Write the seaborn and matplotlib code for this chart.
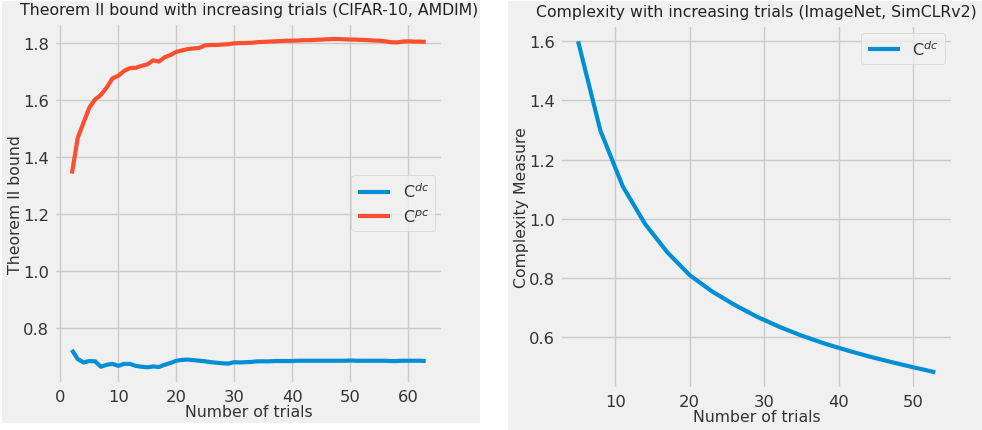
import matplotlib
matplotlib.use("Agg")
import matplotlib.pyplot as plt
from matplotlib.patches import Rectangle
import pandas as pd
import seaborn as sns

# left panel: Theorem II bound vs trials (CIFAR-10, AMDIM)
trials_left = list(range(2, 64))
c_dc_left = [0.724, 0.692, 0.680, 0.685, 0.684, 0.665, 0.672, 0.675, 0.668, 0.675,
             0.675, 0.668, 0.665, 0.663, 0.666, 0.664, 0.672, 0.678, 0.686, 0.689,
             0.690, 0.688, 0.686, 0.684, 0.681, 0.679, 0.677, 0.676, 0.681, 0.680,
             0.681, 0.682, 0.684, 0.684, 0.684, 0.685, 0.685, 0.685, 0.685, 0.686,
             0.686, 0.686, 0.686, 0.686, 0.686, 0.686, 0.686, 0.686, 0.687, 0.686,
             0.686, 0.686, 0.686, 0.686, 0.686, 0.685, 0.685, 0.686, 0.686, 0.686,
             0.686, 0.685]
c_pc_left = [1.343, 1.468, 1.521, 1.574, 1.603, 1.619, 1.645, 1.677, 1.686, 1.703,
             1.713, 1.714, 1.721, 1.726, 1.740, 1.736, 1.751, 1.759, 1.770, 1.775,
             1.780, 1.782, 1.784, 1.793, 1.794, 1.794, 1.796, 1.797, 1.800, 1.801,
             1.801, 1.802, 1.804, 1.805, 1.806, 1.807, 1.808, 1.809, 1.809, 1.810,
             1.811, 1.811, 1.812, 1.813, 1.814, 1.815, 1.815, 1.814, 1.813, 1.813,
             1.812, 1.811, 1.810, 1.809, 1.807, 1.804, 1.803, 1.806, 1.807, 1.806,
             1.806, 1.805]

# right panel: complexity vs trials (ImageNet, SimCLRv2)
trials_right = list(range(5, 54, 3))
c_dc_right = [1.600, 1.298, 1.110, 0.983, 0.887, 0.810, 0.755, 0.710, 0.670,
              0.636, 0.606, 0.580, 0.557, 0.536, 0.517, 0.499, 0.482]

plt.style.use("fivethirtyeight")
blue, red = "#008fd5", "#fc4f30"
txt = "#333333"

fig = plt.figure(figsize=(9.82, 4.31), dpi=100, facecolor="white")
# grey panel backgrounds (two separate plots side by side)
fig.patches.append(Rectangle((0.002, 0.016), 0.487, 0.979, transform=fig.transFigure,
                             facecolor="#f0f0f0", edgecolor="none", zorder=-10))
fig.patches.append(Rectangle((0.517, 0.0), 0.483, 0.996, transform=fig.transFigure,
                             facecolor="#f0f0f0", edgecolor="none", zorder=-10))

ax1 = fig.add_axes([0.0552, 0.1074, 0.3963, 0.8378])
ax2 = fig.add_axes([0.5705, 0.0956, 0.4001, 0.8448])

df_left = pd.DataFrame({"trials": trials_left * 2,
                        "value": c_dc_left + c_pc_left,
                        "series": ["C$^{dc}$"] * len(trials_left) + ["C$^{pc}$"] * len(trials_left)})
sns.lineplot(data=df_left, x="trials", y="value", hue="series",
             palette=[blue, red], linewidth=3, ax=ax1)
ax1.set_title("Theorem II bound with increasing trials (CIFAR-10, AMDIM)",
              fontsize=11.3, pad=6, color="#222222")
ax1.set_xlabel("Number of trials", fontsize=11.3, labelpad=0, color=txt)
ax1.set_ylabel("Theorem II bound", fontsize=11.3, labelpad=0, color=txt)
ax1.set_xticks([0, 10, 20, 30, 40, 50, 60])
ax1.set_yticks([0.8, 1.0, 1.2, 1.4, 1.6, 1.8])
ax1.tick_params(labelsize=11.8, labelcolor=txt)
leg = ax1.legend(loc="center right", fontsize=11.5, title=None)
for t in leg.get_texts():
    t.set_color(txt)

df_right = pd.DataFrame({"trials": trials_right, "value": c_dc_right})
sns.lineplot(data=df_right, x="trials", y="value", color=blue, linewidth=3,
             label="C$^{dc}$", ax=ax2)
ax2.set_title("Complexity with increasing trials (ImageNet, SimCLRv2)",
              fontsize=11.3, pad=6, color="#222222")
ax2.set_xlabel("Number of trials", fontsize=11.3, labelpad=0, color=txt)
ax2.set_ylabel("Complexity Measure", fontsize=11.3, labelpad=0, color=txt)
ax2.set_xticks([10, 20, 30, 40, 50])
ax2.set_yticks([0.6, 0.8, 1.0, 1.2, 1.4, 1.6])
ax2.tick_params(labelsize=11.8, labelcolor=txt)
leg = ax2.legend(loc="upper right", fontsize=11.5)
for t in leg.get_texts():
    t.set_color(txt)

fig.savefig("out.png", dpi=100, facecolor="white")
